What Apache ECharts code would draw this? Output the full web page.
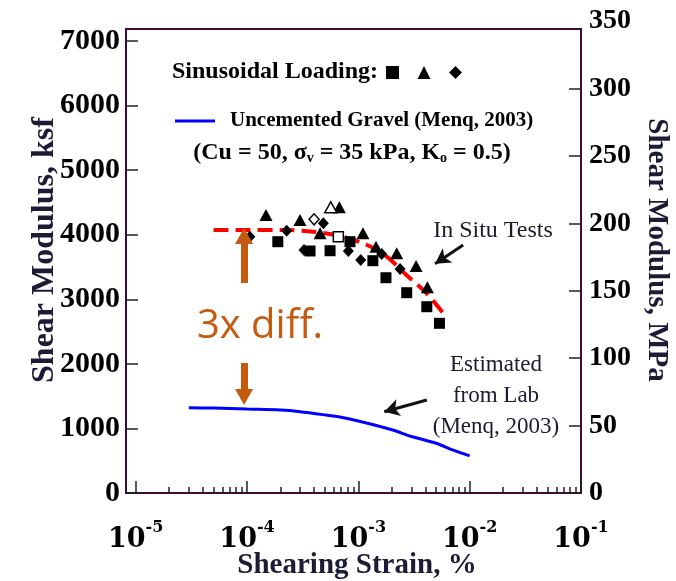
<!DOCTYPE html>
<html><head><meta charset="utf-8">
<script src="https://cdn.jsdelivr.net/npm/echarts@6/dist/echarts.min.js"></script>
<style>html,body{margin:0;padding:0;background:#fff}#c{width:676px;height:581px}</style>
</head><body><div id="c"></div>
<script>
// ---- data ----
const xLabelValues = [1e-5, 1e-4, 1e-3, 1e-2, 1e-1];
const yLeftTicks = [0, 1000, 2000, 3000, 4000, 5000, 6000, 7000];
const yRightTicks = [0, 50, 100, 150, 200, 250, 300];
const yRightTopLabel = 350;
const ksfToMPa = 0.04788;
const yLeftMax = 7186;
const xMin = 8.18e-6, xMax = 0.1;

const sqStrain = [1.89e-4, 3.68e-4, 5.57e-4, 8.41e-4, 1.35e-3, 1.77e-3, 2.72e-3, 4.12e-3, 5.35e-3];
const sqG = [3892, 3748, 3752, 3892, 3598, 3334, 3102, 2885, 2628];
const triStrain = [1.48e-4, 2.99e-4, 4.53e-4, 6.75e-4, 1.10e-3, 1.44e-3, 2.21e-3, 3.30e-3, 4.17e-3];
const triG = [4305, 4228, 4022, 4425, 4022, 3814, 3712, 3516, 3186];
const diaStrain = [1.06e-4, 2.27e-4, 3.25e-4, 4.85e-4, 8.13e-4, 1.05e-3, 1.62e-3, 2.37e-3];
const diaG = [3969, 4062, 3763, 4177, 3748, 3608, 3701, 3469];
const openSqStrain = [6.61e-4], openSqG = [3969];
const openTriStrain = [5.65e-4], openTriG = [4425];
const openDiaStrain = [4.0e-4], openDiaG = [4239];

const redStrain = [5e-5, 1e-4, 2.3e-4, 3.9e-4, 6.9e-4, 1.2e-3, 1.8e-3, 2.7e-3, 4.1e-3, 5.8e-3];
const redG = [4075, 4075, 4073, 4047, 3980, 3841, 3660, 3376, 3093, 2783];

const blueStrain = [3e-5, 5e-5, 1e-4, 2e-4, 3e-4, 5e-4, 7e-4, 1e-3, 2e-3, 3e-3, 5e-3, 7e-3, 1e-2];
const blueG = [1320, 1315, 1300, 1285, 1260, 1210, 1172, 1115, 980, 875, 770, 668, 575];

// annotation arrows (data space)
const orangeUp = [[9.4e-5, 3252], [9.4e-5, 3980]];
const orangeDown = [[9.4e-5, 2013], [9.4e-5, 1487]];
const insituArrow = [[8.73e-3, 3841], [4.89e-3, 3551]];
const labArrow = [[4.12e-3, 1440], [1.71e-3, 1259]];

const zip = (a, b) => a.map((v, i) => [v, b[i]]);
const minorTicks = [];
for (let n = -5; n <= -2; n++) for (let k = 2; k <= 9; k++) minorTicks.push(+(k * Math.pow(10, n)).toPrecision(3));

const AX = '#3d0b3c';
const serif = 'Liberation Serif';
const wideSerif = 'DejaVu Serif';
const NAME = '#1c1c36';

const chart = echarts.init(document.getElementById('c'), null, {renderer: 'canvas'});
const option = {
  animation: false,
  backgroundColor: '#fff',
  grid: {left: 126, right: 95, top: 29, bottom: 88, show: true, borderColor: AX, borderWidth: 2, outerBoundsMode: 'none', containLabel: false},
  xAxis: [{
    type: 'log', logBase: 10, min: xMin, max: xMax, position: 'bottom',
    axisLine: {show: true, lineStyle: {color: AX, width: 2}},
    axisTick: {show: true, inside: true, length: 12, lineStyle: {color: '#222', width: 1.5}, customValues: xLabelValues},
    splitLine: {show: false}, minorTick: {show: false},
    axisLabel: {
      show: true, margin: 27, customValues: xLabelValues,
      formatter: v => '{b|10}{s|' + Math.round(Math.log10(v)) + '}',
      rich: {
        b: {fontFamily: wideSerif, fontWeight: 'bold', fontSize: 27, lineHeight: 40, color: '#000'},
        s: {fontFamily: wideSerif, fontWeight: 'bold', fontSize: 16, lineHeight: 16, verticalAlign: 'top', color: '#000'}
      }
    }
  }, {
    type: 'log', logBase: 10, min: xMin, max: xMax, position: 'bottom', gridIndex: 0,
    axisLine: {show: false},
    axisTick: {show: true, inside: true, length: 6, lineStyle: {color: '#222', width: 1.5}, customValues: minorTicks},
    axisLabel: {show: false}, splitLine: {show: false}
  }],
  yAxis: [{
    type: 'value', min: 0, max: yLeftMax, position: 'left',
    axisLine: {show: true, lineStyle: {color: AX, width: 2}},
    axisTick: {show: true, inside: true, length: 12, lineStyle: {color: '#222', width: 1.5}, customValues: yLeftTicks},
    splitLine: {show: false},
    axisLabel: {customValues: yLeftTicks, margin: 6, formatter: v => String(v), fontFamily: serif, fontWeight: 'bold', fontSize: 30, color: '#000'}
  }, {
    type: 'value', min: 0, max: yLeftMax * ksfToMPa, position: 'right',
    axisLine: {show: true, lineStyle: {color: AX, width: 2}},
    axisTick: {show: true, inside: true, length: 12, lineStyle: {color: '#222', width: 1.5}, customValues: yRightTicks},
    splitLine: {show: false},
    axisLabel: {customValues: yRightTicks, margin: 8, formatter: v => String(v), fontFamily: serif, fontWeight: 'bold', fontSize: 28, color: '#000'}
  }],
  legend: [{
    left: 386, top: 66, padding: 0, itemWidth: 13, itemHeight: 13, itemGap: 18.5, orient: 'horizontal',
    data: [{name: 'Squares', icon: 'rect'}, {name: 'Triangles', icon: 'triangle'}, {name: 'Diamonds', icon: 'diamond'}],
    formatter: () => '', selectedMode: false,
    textStyle: {fontSize: 1}
  }, {
    left: 175, top: 108, padding: 0, itemWidth: 40, itemHeight: 3, selectedMode: false,
    data: [{name: 'Uncemented Gravel (Menq, 2003)', icon: 'rect'}],
    textStyle: {fontFamily: serif, fontWeight: 'bold', fontSize: 21, color: '#000', lineHeight: 26, padding: [0, 0, 0, 10]}
  }],
  series: [
    {name: 'Uncemented Gravel (Menq, 2003)', type: 'line', data: zip(blueStrain, blueG), smooth: 0.3, symbol: 'none', showSymbol: false,
     lineStyle: {color: '#0000ff', width: 3}, itemStyle: {color: '#0000ff'}, z: 3},
    {name: 'In Situ Fit', type: 'line', data: zip(redStrain, redG), smooth: 0.3, symbol: 'none', showSymbol: false,
     lineStyle: {color: '#ff0000', width: 4, type: [15, 7]}, z: 3},
    {name: 'Squares', type: 'scatter', data: zip(sqStrain, sqG), symbol: 'rect', symbolSize: 11, itemStyle: {color: '#000', opacity: 1}, z: 4},
    {name: 'Triangles', type: 'scatter', data: zip(triStrain, triG), symbol: 'triangle', symbolSize: [13, 12], itemStyle: {color: '#000', opacity: 1}, z: 4},
    {name: 'Diamonds', type: 'scatter', data: zip(diaStrain, diaG), symbol: 'diamond', symbolSize: [11, 12], itemStyle: {color: '#000', opacity: 1}, z: 4},
    {name: 'Open Square', type: 'scatter', data: zip(openSqStrain, openSqG), symbol: 'rect', symbolSize: 10, itemStyle: {color: '#fff', borderColor: '#000', borderWidth: 1.5, opacity: 1}, z: 4},
    {name: 'Open Triangle', type: 'scatter', data: zip(openTriStrain, openTriG), symbol: 'triangle', symbolSize: [12, 11], itemStyle: {color: '#fff', borderColor: '#000', borderWidth: 1.5, opacity: 1}, z: 4},
    {name: 'Open Diamond', type: 'scatter', data: zip(openDiaStrain, openDiaG), symbol: 'diamond', symbolSize: [10, 11], itemStyle: {color: '#fff', borderColor: '#000', borderWidth: 1.5, opacity: 1}, z: 4},
    {name: 'orangeArrows', type: 'line', data: [], z: 5,
     markLine: {silent: true, animation: false, symbol: ['none', 'triangle'], symbolSize: [18, 16], label: {show: false},
       lineStyle: {color: '#c55a11', width: 7, type: 'solid'},
       emphasis: {disabled: true},
       data: [orangeUp, orangeDown].map(p => [{coord: p[0]}, {coord: p[1]}])}},
    {name: 'blackArrows', type: 'line', data: [], z: 5,
     markLine: {silent: true, animation: false, symbol: ['none', 'arrow'], symbolSize: [13, 15], label: {show: false},
       lineStyle: {color: '#111', width: 3, type: 'solid'},
       emphasis: {disabled: true},
       data: [insituArrow, labArrow].map(p => [{coord: p[0]}, {coord: p[1]}])}}
  ],
  graphic: [
    {id: 'sinus', type: 'text', x: 172, y: 72, style: {text: 'Sinusoidal Loading:', fontFamily: serif, fontWeight: 'bold', fontSize: 24, fill: '#000', align: 'left', verticalAlign: 'middle'}},
    {id: 'cond', type: 'text', x: 352, y: 153, style: {
      text: '(Cu = 50, σ{s|v} = 35 kPa, K{s|o} = 0.5)', fontFamily: serif, fontWeight: 'bold', fontSize: 24, fill: '#000', align: 'center', verticalAlign: 'middle',
      rich: {s: {fontFamily: serif, fontWeight: 'bold', fontSize: 14, lineHeight: 10, verticalAlign: 'bottom', fill: '#000'}}}},
    {id: 'diff', type: 'text', x: 260, y: 327, style: {text: '3x diff.', fontFamily: 'Open Sans', fontSize: 40, fill: '#c55a11', align: 'center', verticalAlign: 'middle'}},
    {id: 'insitu', type: 'text', x: 493, y: 231, style: {text: 'In Situ Tests', fontFamily: serif, fontSize: 24, fill: '#1b1b2f', align: 'center', verticalAlign: 'middle'}},
    {id: 'lab', type: 'text', x: 496, y: 396, style: {text: 'Estimated\nfrom Lab\n(Menq, 2003)', fontFamily: serif, fontSize: 23, lineHeight: 31, fill: '#1b1b2f', align: 'center', verticalAlign: 'middle'}},
    {id: 'yname', type: 'text', x: 45, y: 250, rotation: Math.PI / 2, style: {text: 'Shear Modulus, ksf', fontFamily: serif, fontWeight: 'bold', fontSize: 32, fill: NAME, align: 'center', verticalAlign: 'middle'}},
    {id: 'y2name', type: 'text', x: 656, y: 250, rotation: -Math.PI / 2, style: {text: 'Shear Modulus, MPa', fontFamily: serif, fontWeight: 'bold', fontSize: 29, fill: NAME, align: 'center', verticalAlign: 'middle'}},
    {id: 'xname', type: 'text', x: 357, y: 566, style: {text: 'Shearing Strain, %', fontFamily: serif, fontWeight: 'bold', fontSize: 29, fill: NAME, align: 'center', verticalAlign: 'middle'}}
  ]
};
chart.setOption(option);
const topY = chart.convertToPixel({yAxisIndex: 1}, yRightTopLabel);
const rightX = chart.convertToPixel({xAxisIndex: 0}, xMax);
chart.setOption({graphic: [{id: 'r350', type: 'text', x: rightX + 8, y: topY, style: {text: String(yRightTopLabel), fontFamily: serif, fontWeight: 'bold', fontSize: 28, fill: '#000', align: 'left', verticalAlign: 'middle'}}]});
</script></body></html>
